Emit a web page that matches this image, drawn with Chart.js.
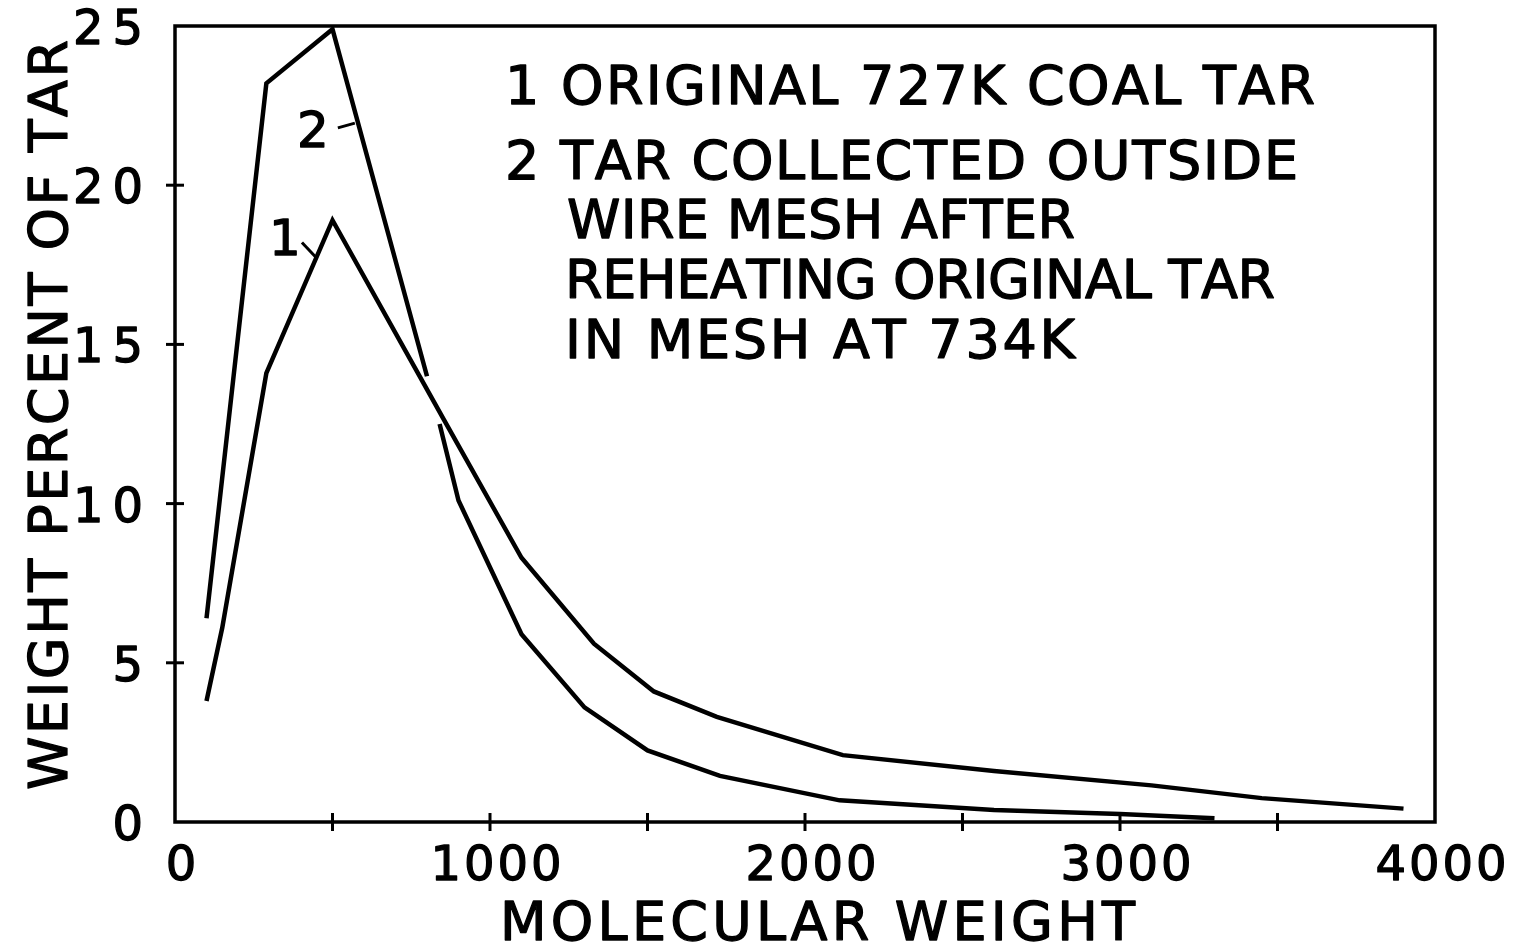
<!DOCTYPE html>
<html>
<head>
<meta charset="utf-8">
<script src="https://cdn.jsdelivr.net/npm/chart.js@4.4.1/dist/chart.umd.min.js"></script>
<style>
  html, body { margin: 0; padding: 0; background: #fff; overflow: hidden; }
  #wrap { width: 1524px; height: 950px; position: relative; background: #fff; }
</style>
</head>
<body>
<div id="wrap"><canvas id="c" width="1524" height="950"></canvas></div>
<script>
// Molecular weight distribution of tar, weight percent per molecular weight
const mwOriginal  = [100, 150, 290, 500, 850, 1100, 1330, 1520, 1720, 2120, 2600, 3100, 3450, 3900];
const pctOriginal = [3.8, 6.1, 14.1, 18.9, 12.7, 8.3, 5.6, 4.1, 3.3, 2.1, 1.6, 1.15, 0.75, 0.42];

// Reheated tar; the null leaves the break where the two curves cross
const mwReheated  = [100, 290, 500, 800, 820, 840, 900, 1100, 1300, 1500, 1730, 2110, 2600, 3000, 3300];
const pctReheated = [6.4, 23.2, 24.9, 14.0, null, 12.5, 10.1, 5.9, 3.6, 2.25, 1.45, 0.68, 0.38, 0.25, 0.12];

const xTickLabels = ['0', '1000', '2000', '3000', '4000'];
const yTickLabels = ['0', '5', '10', '15', '20', '25'];

const xTitle = 'MOLECULAR WEIGHT';
const yTitle = 'WEIGHT PERCENT OF TAR';
const keyLines = [
  '1 ORIGINAL 727K COAL TAR',
  '2 TAR COLLECTED OUTSIDE',
  'WIRE MESH AFTER',
  'REHEATING ORIGINAL TAR',
  'IN MESH AT 734K'
];

const FONT = '"DejaVu Sans", "Liberation Sans", sans-serif';

function toPoints(xs, ys) {
  return xs.map((x, i) => ({ x: x, y: ys[i] }));
}

// draw text one glyph at a time with extra spacing between glyphs;
// a thin outline gives the lettering a slightly heavier stroke
function drawSpaced(ctx, text, x, y, spacing, align) {
  const chars = Array.from(text);
  const widths = chars.map(c => ctx.measureText(c).width);
  const total = widths.reduce((a, b) => a + b, 0) + spacing * (chars.length - 1);
  let cx = x;
  if (align === 'center') cx = x - total / 2;
  else if (align === 'right') cx = x - total;
  ctx.textAlign = 'left';
  ctx.save();
  ctx.lineWidth = 1.3;
  ctx.lineJoin = 'round';
  chars.forEach((c, i) => {
    ctx.fillText(c, cx, y);
    ctx.strokeText(c, cx, y);
    cx += widths[i] + spacing;
  });
  ctx.restore();
}

// draw text spread to fill the span x0..x1
function drawFitted(ctx, text, x0, x1, y) {
  const chars = Array.from(text);
  const natural = chars.reduce((a, c) => a + ctx.measureText(c).width, 0);
  const spacing = (x1 - x0 - natural) / Math.max(1, chars.length - 1);
  drawSpaced(ctx, text, x0, y, spacing, 'left');
}

// frame, cross ticks, labels, titles and the key
const figureDecor = {
  id: 'figureDecor',
  afterDatasetsDraw(chart) {
    const ctx = chart.ctx;
    const a = chart.chartArea;
    const xs = chart.scales.x;
    const ys = chart.scales.y;
    ctx.save();
    ctx.strokeStyle = '#000';
    ctx.fillStyle = '#000';
    ctx.lineCap = 'butt';

    // plot frame
    ctx.lineWidth = 3.5;
    ctx.strokeRect(a.left, a.top, a.right - a.left, a.bottom - a.top);

    // ticks crossing the axes
    ctx.lineWidth = 3;
    for (let v = 500; v < 4000; v += 500) {
      const px = xs.getPixelForValue(v);
      ctx.beginPath();
      ctx.moveTo(px, a.bottom - 9);
      ctx.lineTo(px, a.bottom + 9);
      ctx.stroke();
    }
    for (let v = 5; v < 25; v += 5) {
      const py = ys.getPixelForValue(v);
      ctx.beginPath();
      ctx.moveTo(a.left - 9, py);
      ctx.lineTo(a.left + 9, py);
      ctx.stroke();
    }

    // tick labels
    ctx.font = '48px ' + FONT;
    ctx.textBaseline = 'alphabetic';
    xTickLabels.forEach(t => {
      const px = xs.getPixelForValue(Number(t));
      drawSpaced(ctx, t, px + 6, a.bottom + 58, 3, 'center');
    });
    yTickLabels.forEach(t => {
      const py = ys.getPixelForValue(Number(t));
      drawSpaced(ctx, t, a.left - 32, py + 18, 9, 'right');
    });

    // axis titles
    ctx.font = '54px ' + FONT;
    drawFitted(ctx, xTitle, 500, 1135, 940);
    ctx.save();
    ctx.translate(67, 790);
    ctx.rotate(-Math.PI / 2);
    drawFitted(ctx, yTitle, 0, 750, 0);
    ctx.restore();

    // key text
    const keySpans = [[505, 1315, 104], [505, 1298, 179], [567, 1075, 238], [565, 1275, 298], [565, 1075, 358]];
    keyLines.forEach((t, i) => {
      const s = keySpans[i];
      drawFitted(ctx, t, s[0], s[1], s[2]);
    });

    // curve numbers with leader strokes, placed in data coordinates
    ctx.font = '50px ' + FONT;
    const tags = [
      { text: '2', at: [438, 21.2], lead: [[517, 21.8], [571, 21.95]] },
      { text: '1', at: [349, 17.8], lead: [[403, 18.2], [451, 17.7]] }
    ];
    ctx.lineWidth = 3;
    tags.forEach(tg => {
      drawSpaced(ctx, tg.text, xs.getPixelForValue(tg.at[0]), ys.getPixelForValue(tg.at[1]), 0, 'center');
      ctx.beginPath();
      ctx.moveTo(xs.getPixelForValue(tg.lead[0][0]), ys.getPixelForValue(tg.lead[0][1]));
      ctx.lineTo(xs.getPixelForValue(tg.lead[1][0]), ys.getPixelForValue(tg.lead[1][1]));
      ctx.stroke();
    });

    ctx.restore();
  }
};

new Chart(document.getElementById('c'), {
  type: 'line',
  data: {
    datasets: [
      {
        label: '1 ORIGINAL 727K COAL TAR',
        data: toPoints(mwOriginal, pctOriginal),
        borderColor: '#000',
        borderWidth: 4.5,
        pointRadius: 0,
        tension: 0,
        spanGaps: false
      },
      {
        label: '2 TAR COLLECTED OUTSIDE WIRE MESH AFTER REHEATING ORIGINAL TAR IN MESH AT 734K',
        data: toPoints(mwReheated, pctReheated),
        borderColor: '#000',
        borderWidth: 4.5,
        pointRadius: 0,
        tension: 0,
        spanGaps: false
      }
    ]
  },
  options: {
    responsive: false,
    animation: false,
    devicePixelRatio: 1,
    layout: { padding: { left: 0, right: 89, top: 26, bottom: 0 } },
    plugins: { legend: { display: false }, tooltip: { enabled: false } },
    scales: {
      x: {
        type: 'linear', min: 0, max: 4000,
        ticks: { display: false, stepSize: 500 },
        grid: { display: false }, border: { display: false },
        afterFit(s) { s.height = 128; }
      },
      y: {
        min: 0, max: 25,
        ticks: { display: false, stepSize: 5 },
        grid: { display: false }, border: { display: false },
        afterFit(s) { s.width = 175; }
      }
    }
  },
  plugins: [figureDecor]
});
</script>
</body>
</html>
